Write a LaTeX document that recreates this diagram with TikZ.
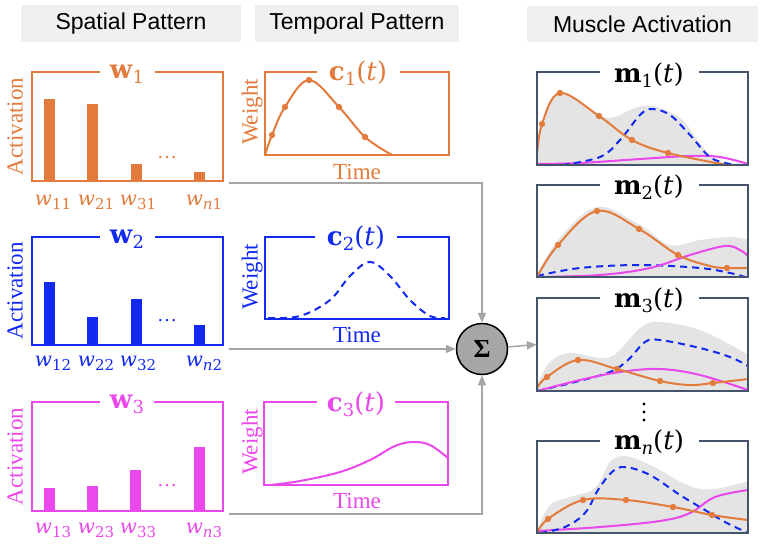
\documentclass[tikz,border=0pt]{standalone}
\usepackage{fontspec}
\setmainfont{Liberation Serif}
\setsansfont{Liberation Sans}
\newfontfamily\mfont{DejaVu Serif}
\usetikzlibrary{arrows.meta}
\definecolor{cor}{RGB}{226,123,60}
\definecolor{cbl}{RGB}{18,42,240}
\definecolor{cmg}{RGB}{234,72,234}
\definecolor{cdk}{RGB}{68,84,106}
\definecolor{hdrgray}{RGB}{240,240,240}
\definecolor{envgray}{RGB}{228,228,228}
\definecolor{arrgray}{RGB}{165,165,165}
\definecolor{sigfill}{RGB}{166,166,166}
\newcommand\mygbox[7]{\draw[#1] (#6,#3) -- (#2,#3) -- (#2,#5) -- (#4,#5) -- (#4,#3) -- (#7,#3);}
\newcommand\tsub[1]{\raisebox{-5pt}{\fontsize{18}{20}\selectfont #1}}
\newcommand\lsub[1]{\raisebox{-4.5pt}{\fontsize{15}{17}\selectfont #1}}
\newcommand\lw[1]{\textit{w}\lsub{#1}}
\begin{document}
\begin{tikzpicture}[x=1pt,y=-1pt,
  hdr/.style={fill=hdrgray,inner sep=0pt,font=\sffamily\fontsize{23}{27}\selectfont},
  lab/.style={font=\fontsize{23}{27}\selectfont,inner sep=0pt},
  ttl/.style={font=\mfont\fontsize{26}{30}\selectfont,anchor=base,inner sep=0pt},
  wl/.style={font=\mfont\fontsize{20}{24}\selectfont,anchor=base,inner sep=0pt},
  bx/.style={line width=1.5pt},
  cv/.style={line width=2pt},
  dsh/.style={line width=2pt,dash pattern=on 7pt off 5pt},
  arr/.style={draw=arrgray,line width=1.5pt,-{Triangle[length=10pt,width=8pt]}},
  dotsn/.style={font=\fontsize{20}{24}\selectfont,inner sep=0pt}]
\useasboundingbox (0,0) rectangle (765,547);

% headers
\node[hdr,minimum width=220pt,minimum height=37pt] (h1) at (131,23.5) {Spatial Pattern};
\node[hdr,minimum width=204pt,minimum height=37pt] (h2) at (357,23.5) {Temporal Pattern};
\node[hdr,minimum width=231pt,minimum height=36pt] (h3) at (642.5,24) {Muscle Activation};

% ---------- spatial 1 (orange)
\mygbox{bx,cor}{32}{72}{223}{181}{100}{155}
\node[ttl,text=cor] (w1t) at (127,78) {\textbf{w}\tsub{1}};
\fill[cor] (44,99) rectangle (55,181);
\fill[cor] (87,104) rectangle (98,181);
\fill[cor] (131,164) rectangle (142,181);
\fill[cor] (194,172) rectangle (205,181);
\node[dotsn,text=cor] (d1) at (167,158) {…};
\node[lab,rotate=90,text=cor] (a1) at (15,126.5) {Activation};
\node[wl,text=cor] (l11) at (53,205) {\lw{11}};
\node[wl,text=cor] (l21) at (96,205) {\lw{21}};
\node[wl,text=cor] (l31) at (138,205) {\lw{31}};
\node[wl,text=cor] (ln1) at (204,205) {\lw{\textit{n}1}};

% ---------- spatial 2 (blue)
\mygbox{bx,cbl}{32}{237}{223}{345}{100}{155}
\node[ttl,text=cbl] (w2t) at (127,243) {\textbf{w}\tsub{2}};
\fill[cbl] (44,282) rectangle (55,345);
\fill[cbl] (87,317) rectangle (98,345);
\fill[cbl] (131,299) rectangle (142,345);
\fill[cbl] (194,325) rectangle (205,345);
\node[dotsn,text=cbl] (d2) at (167,321) {…};
\node[lab,rotate=90,text=cbl] (a2) at (15,291) {Activation};
\node[wl,text=cbl] (l12) at (53,366) {\lw{12}};
\node[wl,text=cbl] (l22) at (96,366) {\lw{22}};
\node[wl,text=cbl] (l32) at (138,366) {\lw{32}};
\node[wl,text=cbl] (ln2) at (204,366) {\lw{\textit{n}2}};

% ---------- spatial 3 (magenta)
\mygbox{bx,cmg}{32}{402}{223}{511}{100}{154}
\node[ttl,text=cmg] (w3t) at (127,408) {\textbf{w}\tsub{3}};
\fill[cmg] (44,488) rectangle (55,511);
\fill[cmg] (87,486) rectangle (98,511);
\fill[cmg] (130,470) rectangle (141,511);
\fill[cmg] (194,447) rectangle (205,511);
\node[dotsn,text=cmg] (d3) at (167,486) {…};
\node[lab,rotate=90,text=cmg] (a3) at (15,456.5) {Activation};
\node[wl,text=cmg] (l13) at (53,533) {\lw{13}};
\node[wl,text=cmg] (l23) at (96,533) {\lw{23}};
\node[wl,text=cmg] (l33) at (138,533) {\lw{33}};
\node[wl,text=cmg] (ln3) at (204,533) {\lw{\textit{n}3}};

% ---------- temporal 1
\mygbox{bx,cor}{265}{72}{449}{155}{317}{400}
\node[ttl,text=cor] (c1t) at (358,80) {\textbf{c}\tsub{1}(\textit{t})};
\draw[cv,cor] plot[smooth,tension=0.6] coordinates {(265,155) (272,135) (285,107) (309,80) (339,107) (365,137) (392,155)};
\foreach \p in {(272,135),(285,107),(309,80),(339,107),(365,137)} \fill[cor] \p circle (3.2pt);
\node[lab,rotate=90,text=cor] (wg1) at (252,112) {Weight};
\node[lab,text=cor] (tm1) at (357,172) {Time};

% ---------- temporal 2
\mygbox{bx,cbl}{265}{237}{449}{319}{315}{397}
\node[ttl,text=cbl] (c2t) at (356,245) {\textbf{c}\tsub{2}(\textit{t})};
\draw[dsh,cbl] plot[smooth,tension=0.6] coordinates {(268,318) (300,316) (330,300) (350,276) (370,262) (390,276) (410,300) (430,316) (445,318)};
\node[lab,rotate=90,text=cbl] (wg2) at (252,277) {Weight};
\node[lab,text=cbl] (tm2) at (357,335) {Time};

% ---------- temporal 3
\mygbox{bx,cmg}{264}{402}{448}{485}{317}{395}
\node[ttl,text=cmg] (c3t) at (356,411) {\textbf{c}\tsub{3}(\textit{t})};
\draw[cv,cmg] plot[smooth,tension=0.6] coordinates {(270,485) (300,481) (340,472) (370,460) (395,446) (413,442) (430,445) (448,458)};
\node[lab,rotate=90,text=cmg] (wg3) at (252,442) {Weight};
\node[lab,text=cmg] (tm3) at (357,501) {Time};

% ---------- muscle 1
\fill[envgray] plot[smooth,tension=0.6] coordinates {(537,150) (542,124) (560,92) (598,115) (615,117) (632,109) (652,106) (680,118) (700,143) (715,160) (748,165)} -- (537,165) -- cycle;
\draw[cv,cmg] plot[smooth,tension=0.6] coordinates {(537,164) (580,163) (640,159) (690,156) (720,157) (748,164)};
\draw[dsh,cbl] plot[smooth,tension=0.6] coordinates {(562,165) (600,157) (620,140) (640,115) (652,109) (670,115) (690,135) (710,157) (730,164) (748,165)};
\draw[cv,cor] plot[smooth,tension=0.6] coordinates {(537,155) (542,124) (560,93) (599,116) (632,140) (668,153) (727,165)};
\foreach \p in {(542,124),(560,93),(599,116),(632,140),(668,153)} \fill[cor] \p circle (3.2pt);
\mygbox{bx,cdk}{537}{72}{748}{165}{600}{699}
\node[ttl,text=black] (m1t) at (649,82) {\textbf{m}\tsub{1}(\textit{t})};

% ---------- muscle 2
\fill[envgray] plot[smooth,tension=0.6] coordinates {(537,275) (558,240) (597,207) (640,225) (670,245) (700,240) (730,237) (748,240)} -- (748,277) -- (537,277) -- cycle;
\draw[dsh,cbl] plot[smooth,tension=0.6] coordinates {(537,276) (580,268) (640,265) (700,268) (730,273) (745,277)};
\draw[cv,cmg] plot[smooth,tension=0.6] coordinates {(537,277) (600,275) (650,268) (690,255) (725,246) (740,250) (748,256)};
\draw[cv,cor] plot[smooth,tension=0.6] coordinates {(537,277) (558,245) (597,211) (639,229) (678,255) (710,266) (727,268) (748,268)};
\foreach \p in {(558,245),(597,211),(639,229),(678,255),(727,268)} \fill[cor] \p circle (3.2pt);
\mygbox{bx,cdk}{537}{185}{748}{277}{600}{699}
\node[ttl,text=black] (m2t) at (649,194) {\textbf{m}\tsub{2}(\textit{t})};

% ---------- muscle 3
\node[inner sep=0pt,minimum width=211pt,minimum height=93pt] (m3) at (642.5,344.5) {};
\fill[envgray] plot[smooth,tension=0.6] coordinates {(537,385) (550,362) (570,353) (610,357) (640,328) (660,322) (700,330) (740,350) (748,355)} -- (748,391) -- (537,391) -- cycle;
\draw[dsh,cbl] plot[smooth,tension=0.6] coordinates {(537,391) (575,382) (610,372) (628,360) (645,342) (660,340) (700,348) (730,357) (748,366)};
\draw[cv,cmg] plot[smooth,tension=0.6] coordinates {(537,391) (580,380) (620,372) (660,369) (700,375) (748,390)};
\draw[cv,cor] plot[smooth,tension=0.6] coordinates {(537,388) (547,377) (578,360) (617,369) (660,381) (690,385) (713,383) (748,379)};
\foreach \p in {(547,377),(578,360),(617,369),(660,381),(713,383)} \fill[cor] \p circle (3.2pt);
\mygbox{bx,cdk}{537}{298}{748}{391}{600}{699}
\node[ttl,text=black] (m3t) at (649,307) {\textbf{m}\tsub{3}(\textit{t})};

\foreach \yy in {404,412,420} \fill[black] (644,\yy) circle (1.6pt);

% ---------- muscle n
\fill[envgray] plot[smooth,tension=0.6] coordinates {(537,530) (550,505) (570,497) (595,488) (610,462) (625,456) (650,465) (700,489) (748,481)} -- (748,533) -- (537,533) -- cycle;
\draw[cv,cmg] plot[smooth,tension=0.6] coordinates {(537,531) (600,527) (660,521) (690,513) (715,497) (748,490)};
\draw[dsh,cbl] plot[smooth,tension=0.6] coordinates {(540,533) (565,527) (585,513) (598,490) (612,472) (625,467) (650,475) (680,495) (705,510) (725,522) (748,533)};
\draw[cv,cor] plot[smooth,tension=0.6] coordinates {(537,533) (548,519) (583,500) (626,500) (673,507) (712,515) (748,520)};
\foreach \p in {(548,519),(583,500),(626,500),(673,507),(712,515)} \fill[cor] \p circle (3.2pt);
\mygbox{bx,cdk}{537}{441}{748}{533}{600}{699}
\node[ttl,text=black] (mnt) at (649,449) {\textbf{m}\tsub{\textit{n}}(\textit{t})};

% ---------- sum and connectors
\node[circle,draw=black,fill=sigfill,line width=1.5pt,minimum size=51pt,inner sep=0pt,font=\fontsize{26}{30}\selectfont\bfseries] (sig) at (482,349) {Σ};
\coordinate (s1) at (229,183);
\coordinate (s2) at (229,349);
\coordinate (s3) at (229,514);
\draw[arr] (s1) -| (sig);
\draw[arr] (s2) -- (sig);
\draw[arr] (s3) -| (sig);
\draw[arr] (sig) -- (m3.west);
\end{tikzpicture}
\end{document}
